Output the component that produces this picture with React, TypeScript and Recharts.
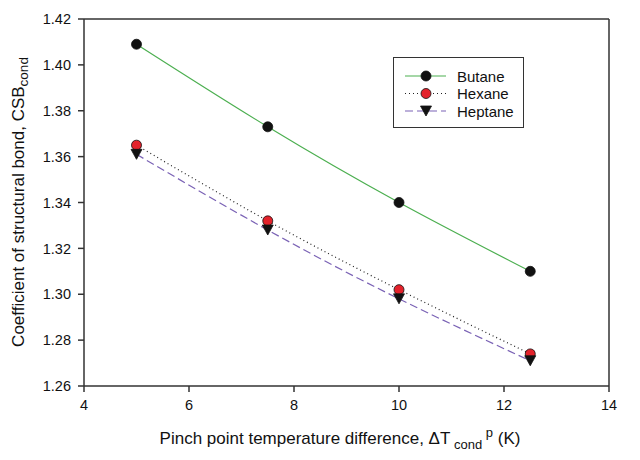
import React from "react";
import {
  LineChart,
  Line,
  XAxis,
  YAxis,
  ReferenceLine,
} from "recharts";

const xValues = [5, 7.5, 10, 12.5];
const butane = [1.409, 1.373, 1.34, 1.31];
const hexane = [1.365, 1.332, 1.302, 1.274];
const heptane = [1.361, 1.328, 1.298, 1.271];

const xTicks = [4, 6, 8, 10, 12, 14];
const yTicks = [1.26, 1.28, 1.3, 1.32, 1.34, 1.36, 1.38, 1.4, 1.42];

const data = xValues.map((x, i) => ({
  x,
  butane: butane[i],
  hexane: hexane[i],
  heptane: heptane[i],
}));

const FONT = "'Liberation Sans', Arial, sans-serif";
const AXIS = "#333";

const series = [
  { key: "butane", name: "Butane", stroke: "#4caf50", dash: undefined, marker: "circle", fill: "#111" },
  { key: "hexane", name: "Hexane", stroke: "#222", dash: "1 3", marker: "circle", fill: "#e3222b" },
  { key: "heptane", name: "Heptane", stroke: "#7a62b5", dash: "8 4", marker: "triangle", fill: "#111" },
];

function Marker({ cx, cy, type, fill }: any) {
  if (cx == null || cy == null) return null;
  if (type === "triangle") {
    return (
      <path
        d={`M${cx - 5.5},${cy - 5} L${cx + 5.5},${cy - 5} L${cx},${cy + 5} Z`}
        fill={fill}
        stroke="#111"
        strokeWidth={0.8}
      />
    );
  }
  return <circle cx={cx} cy={cy} r={5} fill={fill} stroke="#111" strokeWidth={0.8} />;
}

function XTitle() {
  return (
    <text x={340} y={444} textAnchor="middle" fontFamily={FONT} fontSize={17} fill="#111">
      Pinch point temperature difference, ΔT
      <tspan fontSize={13} dy={5}> cond</tspan>
      <tspan fontSize={13} dy={-12}> p</tspan>
      <tspan dy={7}> (K)</tspan>
    </text>
  );
}

function YTitle() {
  const x = 24;
  const y = 202;
  return (
    <text
      x={x}
      y={y}
      transform={`rotate(-90 ${x} ${y})`}
      textAnchor="middle"
      fontFamily={FONT}
      fontSize={17}
      fill="#111"
    >
      Coefficient of structural bond, CSB
      <tspan fontSize={13.5} dy={4}>cond</tspan>
    </text>
  );
}

function LegendBox() {
  return (
    <div
      style={{
        position: "absolute",
        left: 393,
        top: 57,
        width: 129,
        height: 69,
        border: `1px solid ${AXIS}`,
        background: "#fff",
      }}
    >
      <svg width={129} height={69}>
        {series.map((s, i) => {
          const y = 18 + i * 17.5;
          return (
            <g key={s.key}>
              <line x1={11} x2={52} y1={y} y2={y} stroke={s.stroke} strokeWidth={1.2} strokeDasharray={s.dash} />
              <Marker cx={32} cy={y} type={s.marker} fill={s.fill} />
              <text x={63} y={y + 5.5} fontFamily={FONT} fontSize={15} fill="#111">
                {s.name}
              </text>
            </g>
          );
        })}
      </svg>
    </div>
  );
}

export default function App() {
  return (
    <div style={{ position: "absolute", left: 0, top: 0, width: 640, height: 460, background: "#fff" }}>
      <LineChart width={640} height={460} data={data} margin={{ top: 19, right: 31, left: 0, bottom: 0 }}>
        <XAxis
          dataKey="x"
          type="number"
          domain={[4, 14]}
          ticks={xTicks}
          interval={0}
          height={74}
          stroke={AXIS}
          strokeWidth={1.5}
          tickSize={6}
          tickMargin={8}
          tick={{ fill: "#111", fontSize: 14.5, fontFamily: FONT }}
          label={<XTitle />}
        />
        <YAxis
          type="number"
          domain={[1.26, 1.42]}
          ticks={yTicks}
          interval={0}
          width={84}
          stroke={AXIS}
          strokeWidth={1.5}
          tickSize={6}
          tickMargin={7}
          tickFormatter={(v: number) => v.toFixed(2)}
          tick={{ fill: "#111", fontSize: 14.5, fontFamily: FONT }}
          label={<YTitle />}
        />
        <ReferenceLine y={1.42} stroke={AXIS} strokeWidth={1.5} />
        <ReferenceLine x={14} stroke={AXIS} strokeWidth={1.5} />
        {series.map((s) => (
          <Line
            key={s.key}
            dataKey={s.key}
            type="natural"
            stroke={s.stroke}
            strokeWidth={1.2}
            strokeDasharray={s.dash}
            dot={(p: any) => <Marker key={`${s.key}-${p.index}`} cx={p.cx} cy={p.cy} type={s.marker} fill={s.fill} />}
            activeDot={false}
            isAnimationActive={false}
          />
        ))}
      </LineChart>
      <LegendBox />
    </div>
  );
}
